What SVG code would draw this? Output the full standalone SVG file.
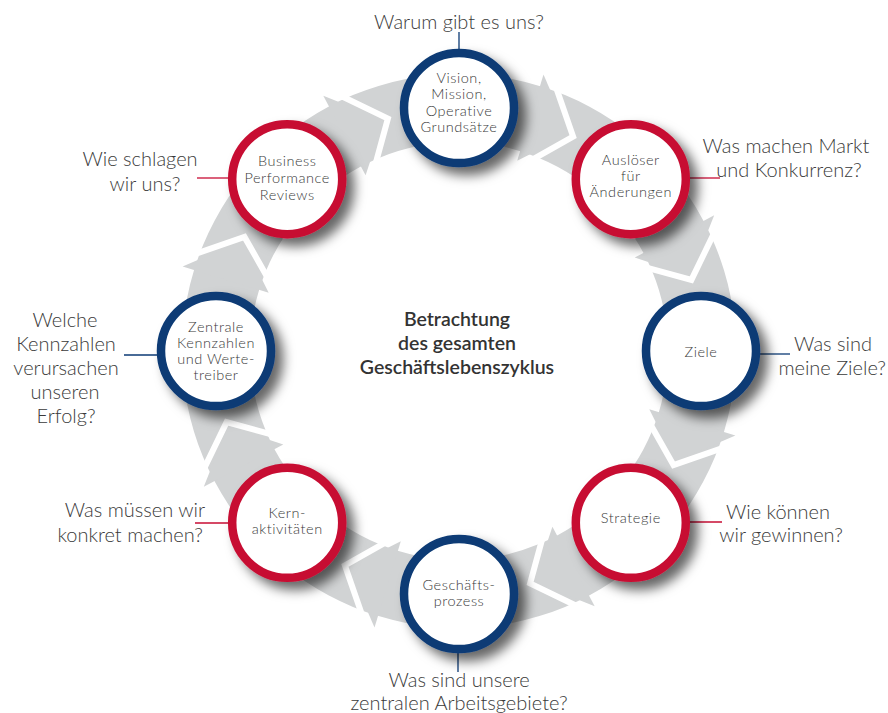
<svg xmlns="http://www.w3.org/2000/svg" width="888" height="713" viewBox="0 0 888 713">
<defs>
<filter id="sh" x="-40%" y="-40%" width="190%" height="190%">
<feDropShadow dx="8" dy="8" stdDeviation="6" flood-color="#000" flood-opacity="0.6"/>
</filter>
<style>
.ring{fill:#d1d3d4}
.gap{fill:none;stroke:#fff;stroke-width:6;stroke-linejoin:miter}
.cb{fill:#fff;stroke:#0b3a75;stroke-width:8.5}
.cr{fill:#fff;stroke:#c70c33;stroke-width:8.5}
.lt{font-family:Lato,"Open Sans",sans-serif;font-size:14.5px;letter-spacing:0.55px;font-weight:300;fill:#3a3a3a;text-anchor:middle}
.q{font-family:Lato,"Open Sans",sans-serif;font-size:20px;font-weight:300;fill:#3a3a3a}
.qc{text-anchor:middle}
.qe{text-anchor:end}
.ctr{font-family:Lato,"Open Sans",sans-serif;font-size:19.5px;font-weight:600;fill:#333;text-anchor:middle}
.lb{stroke:#0b3a75;stroke-width:1.3}
.lr{stroke:#c70c33;stroke-width:1.3}
</style>
</defs>
<rect width="888" height="713" fill="#fff"/>
<g id="ring">
<path class="ring" fill-rule="evenodd" d="M736,351 A277,277 0 1 1 182,351 A277,277 0 1 1 736,351 Z M668,351 A209,209 0 1 0 250,351 A209,209 0 1 0 668,351 Z"/>
<polygon class="ring" points="543.5,74.6 569.3,134.5 517.2,160.7"/>
<polygon class="ring" points="714.2,215.3 690.1,275.9 634.7,257.6"/>
<polygon class="ring" points="735.4,435.5 675.5,461.3 649.3,409.2"/>
<polygon class="ring" points="594.7,606.2 534.1,582.1 552.4,526.7"/>
<polygon class="ring" points="374.5,627.4 348.7,567.5 400.8,541.3"/>
<polygon class="ring" points="203.8,486.7 227.9,426.1 283.3,444.4"/>
<polygon class="ring" points="182.6,266.5 242.5,240.7 268.7,292.8"/>
<polygon class="ring" points="323.3,95.8 383.9,119.9 365.6,175.3"/>
<polyline class="gap" points="550.2,70.4 573.1,136.5 518.6,167.4"/>
<polyline class="gap" points="721.8,217.1 691.4,279.9 631.0,263.4"/>
<polyline class="gap" points="739.6,442.2 673.5,465.1 642.6,410.6"/>
<polyline class="gap" points="592.9,613.8 530.1,583.4 546.6,523.0"/>
<polyline class="gap" points="367.8,631.6 344.9,565.5 399.4,534.6"/>
<polyline class="gap" points="196.2,484.9 226.6,422.1 287.0,438.6"/>
<polyline class="gap" points="178.4,259.8 244.5,236.9 275.4,291.4"/>
<polyline class="gap" points="325.1,88.2 387.9,118.6 371.4,179.0"/>
</g>
<g id="connectors">
<line class="lb" x1="459" y1="50" x2="459" y2="32"/>
<line class="lr" x1="689" y1="178" x2="720" y2="178"/>
<line class="lb" x1="759" y1="354" x2="790" y2="354"/>
<line class="lr" x1="688" y1="522" x2="722" y2="522"/>
<line class="lb" x1="458" y1="652" x2="458" y2="672"/>
<line class="lr" x1="229" y1="523" x2="195" y2="523"/>
<line class="lb" x1="157" y1="355" x2="124" y2="355"/>
<line class="lr" x1="229" y1="178" x2="197" y2="178"/>
</g>
<g id="center-label">
<text class="ctr" x="457" y="326">Betrachtung</text>
<text class="ctr" x="457" y="350">des gesamten</text>
<text class="ctr" x="457" y="374">Geschäftslebenszyklus</text>
</g>
<g id="vision">
<circle class="cb" cx="459" cy="108" r="55" filter="url(#sh)"/>
<text class="lt" x="459" y="83">Vision,</text>
<text class="lt" x="459" y="99">Mission,</text>
<text class="lt" x="459" y="116">Operative</text>
<text class="lt" x="459" y="132">Grundsätze</text>
<text class="q qc" x="459" y="29">Warum gibt es uns?</text>
</g>
<g id="ausloeser">
<circle class="cr" cx="630.8" cy="179.2" r="55" filter="url(#sh)"/>
<text class="lt" x="630.8" y="165">Auslöser</text>
<text class="lt" x="630.8" y="181">für</text>
<text class="lt" x="630.8" y="197">Änderungen</text>
<text class="q qc" x="786" y="153">Was machen Markt</text>
<text class="q qc" x="789" y="177">und Konkurrenz?</text>
</g>
<g id="ziele">
<circle class="cb" cx="701" cy="351" r="55" filter="url(#sh)"/>
<text class="lt" x="701" y="357">Ziele</text>
<text class="q qe" x="872" y="351">Was sind</text>
<text class="q qe" x="886" y="375">meine Ziele?</text>
</g>
<g id="strategie">
<circle class="cr" cx="630.8" cy="522.8" r="55" filter="url(#sh)"/>
<text class="lt" x="630.8" y="523">Strategie</text>
<text class="q qc" x="778" y="519">Wie können</text>
<text class="q qc" x="781" y="542">wir gewinnen?</text>
</g>
<g id="geschaeftsprozess">
<circle class="cb" cx="459" cy="594" r="55" filter="url(#sh)"/>
<text class="lt" x="459" y="590">Geschäfts-</text>
<text class="lt" x="459" y="606">prozess</text>
<text class="q qc" x="459" y="687">Was sind unsere</text>
<text class="q qc" x="459" y="710">zentralen Arbeitsgebiete?</text>
</g>
<g id="kernaktivitaeten">
<circle class="cr" cx="287.2" cy="522.8" r="55" filter="url(#sh)"/>
<text class="lt" x="287.2" y="518">Kern-</text>
<text class="lt" x="287.2" y="534">aktivitäten</text>
<text class="q qe" x="205" y="517">Was müssen wir</text>
<text class="q qe" x="203" y="542">konkret machen?</text>
</g>
<g id="kennzahlen">
<circle class="cb" cx="216" cy="351" r="55" filter="url(#sh)"/>
<text class="lt" x="216" y="332">Zentrale</text>
<text class="lt" x="216" y="348">Kennzahlen</text>
<text class="lt" x="216" y="364">und Werte-</text>
<text class="lt" x="216" y="380">treiber</text>
<text class="q qc" x="65" y="327">Welche</text>
<text class="q qc" x="66" y="351">Kennzahlen</text>
<text class="q qc" x="66" y="375">verursachen</text>
<text class="q qc" x="65" y="399">unseren</text>
<text class="q qc" x="66" y="423">Erfolg?</text>
</g>
<g id="business-reviews">
<circle class="cr" cx="287.2" cy="179.2" r="55" filter="url(#sh)"/>
<text class="lt" x="287.2" y="166">Business</text>
<text class="lt" x="287.2" y="183">Performance</text>
<text class="lt" x="287.2" y="200">Reviews</text>
<text class="q qc" x="140" y="166">Wie schlagen</text>
<text class="q qc" x="145" y="191">wir uns?</text>
</g>
</svg>
